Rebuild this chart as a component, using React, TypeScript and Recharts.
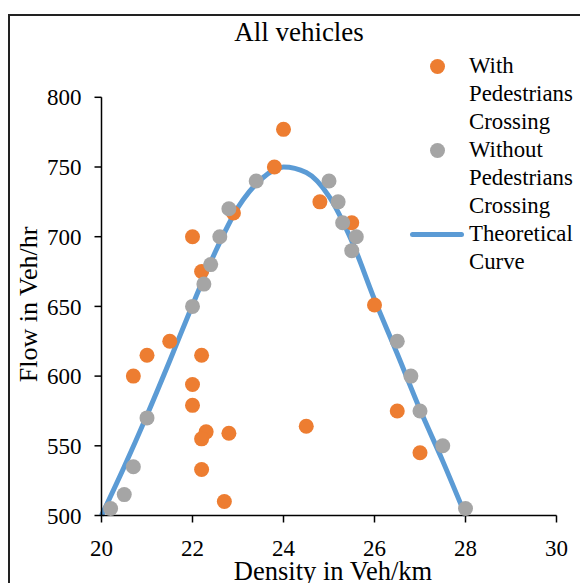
import React from 'react';
import { ComposedChart, Scatter, Line, XAxis, YAxis, Legend } from 'recharts';

// with pedestrians crossing
const withX = [22.0, 24.0, 23.8, 22.9, 22.2, 21.5, 21.0, 22.2, 20.7, 22.0, 22.0, 22.3, 22.2, 22.8, 22.2, 22.7, 24.5, 24.8, 25.5, 26.0, 26.5, 27.0];
const withY = [700, 777, 750, 717, 675, 625, 615, 615, 600, 594, 579, 560, 555, 559, 533, 510, 564, 725, 710, 651, 575, 545];

// without pedestrians crossing
const withoutX = [23.4, 22.8, 22.6, 22.4, 22.25, 22.0, 21.0, 20.7, 20.5, 20.2, 25.0, 25.2, 25.3, 25.6, 25.5, 26.5, 26.8, 27.0, 27.5, 28.0];
const withoutY = [740, 720, 700, 680, 666, 650, 570, 535, 515, 505, 740, 725, 710, 700, 690, 625, 600, 575, 550, 505];

// theoretical curve
const curveX = [20, 20.5, 21, 21.5, 22, 22.5, 23, 23.5, 24, 24.5, 25, 25.5, 26, 26.5, 27, 27.5, 28];
const curveY = [500, 535, 572, 611, 651, 689, 721, 741, 750, 746, 729, 697, 655, 616, 576, 539, 500];

const xTicks = [20, 22, 24, 26, 28, 30];
const yTicks = [500, 550, 600, 650, 700, 750, 800];

const legendItems = [
  { name: 'With Pedestrians Crossing', color: '#ED7D31', kind: 'dot' },
  { name: 'Without Pedestrians Crossing', color: '#A5A5A5', kind: 'dot' },
  { name: 'Theoretical Curve', color: '#5B9BD5', kind: 'line' },
];

const zip = (xs: number[], ys: number[]) => xs.map((x, i) => ({ x, y: ys[i] }));

const withData = zip(withX, withY);
const withoutData = zip(withoutX, withoutY);
const curveData = zip(curveX, curveY);

const FONT = '"Liberation Serif", "Times New Roman", serif';

const dot = (color: string) => (p: any) => <circle cx={p.cx} cy={p.cy} r={7.5} fill={color} />;

function XTick({ x, y, payload }: any) {
  return (
    <text x={x} y={y} dy="0.71em" textAnchor="middle" fontSize={23} fontFamily={FONT} fill="#000">
      {payload.value}
    </text>
  );
}

function YTick({ x, y, payload }: any) {
  return (
    <text x={x} y={y} dy="0.355em" textAnchor="end" fontSize={23} fontFamily={FONT} fill="#000">
      {payload.value}
    </text>
  );
}

function YTitle({ viewBox }: any) {
  const cx = 29;
  const cy = viewBox && viewBox.height ? viewBox.y + viewBox.height / 2 - 2 : 296;
  return (
    <text x={cx} y={cy} transform={`rotate(-90 ${cx} ${cy})`} textAnchor="middle" fontSize={26} fontFamily={FONT} fill="#000">
      Flow in Veh/hr
    </text>
  );
}

function XTitle() {
  return (
    <text x={325} y={572} textAnchor="middle" fontSize={26.5} fontFamily={FONT} fill="#000">
      Density in Veh/km
    </text>
  );
}

function LegendBox() {
  return (
    <div style={{ fontFamily: FONT, fontSize: 22.8, lineHeight: '28px', color: '#000' }}>
      {legendItems.map((item) => (
        <div key={item.name} style={{ display: 'flex', alignItems: 'flex-start' }}>
          <div style={{ width: 64, height: 28, position: 'relative', flex: 'none' }}>
            {item.kind === 'dot' ? (
              <div style={{ position: 'absolute', left: 24.5, top: 6.5, width: 15, height: 15, borderRadius: '50%', background: item.color }} />
            ) : (
              <div style={{ position: 'absolute', left: 5, top: 11.5, width: 54, height: 5, borderRadius: 3, background: item.color }} />
            )}
          </div>
          <div style={{ width: 112 }}>{item.name}</div>
        </div>
      ))}
    </div>
  );
}

export default function App() {
  return (
    <div
      style={{
        position: 'fixed',
        left: 8,
        top: 8,
        width: 572,
        height: 575,
        overflow: 'hidden',
        background: '#fff',
        fontFamily: FONT,
      }}
    >
      <div style={{ position: 'absolute', left: 0, top: 6, width: 620, height: 620, border: '2px solid #222' }} />
      <div style={{ position: 'absolute', left: 0, top: 0 }}>
        <ComposedChart width={620} height={620} margin={{ top: 89.3, right: 71.5, bottom: 72.5, left: 0 }}>
          <XAxis
            type="number"
            dataKey="x"
            domain={[20, 30]}
            ticks={xTicks}
            interval={0}
            height={40}
            tickSize={7}
            tickMargin={17}
            stroke="#000"
            strokeWidth={1.5}
            tick={<XTick />}
            label={{ content: XTitle }}
          />
          <YAxis
            type="number"
            dataKey="y"
            domain={[500, 800]}
            ticks={yTicks}
            interval={0}
            width={93.5}
            tickSize={7}
            tickMargin={13}
            stroke="#000"
            strokeWidth={1.5}
            tick={<YTick />}
            label={{ content: YTitle }}
          />
          <Legend
            layout="vertical"
            align="center"
            verticalAlign="middle"
            content={LegendBox}
            wrapperStyle={{ left: 397, top: 44, width: 180 }}
          />
          <Scatter name="With Pedestrians Crossing" data={withData} fill="#ED7D31" shape={dot('#ED7D31')} isAnimationActive={false} />
          <Scatter name="Without Pedestrians Crossing" data={withoutData} fill="#A5A5A5" shape={dot('#A5A5A5')} isAnimationActive={false} />
          <Line
            name="Theoretical Curve"
            data={curveData}
            dataKey="y"
            type="monotone"
            stroke="#5B9BD5"
            strokeWidth={5}
            dot={false}
            activeDot={false}
            isAnimationActive={false}
          />
        </ComposedChart>
      </div>
      <div style={{ position: 'absolute', left: 191, top: 11.4, width: 200, textAlign: 'center', fontFamily: FONT, fontSize: 27, lineHeight: '27px', color: '#000' }}>
        All vehicles
      </div>
    </div>
  );
}
